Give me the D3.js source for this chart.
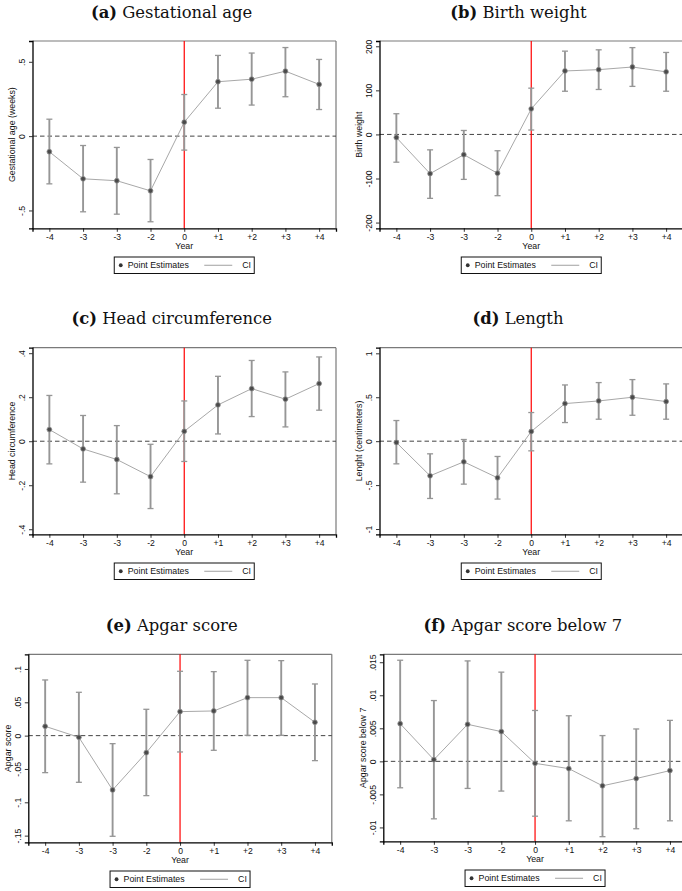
<!DOCTYPE html>
<html>
<head>
<meta charset="utf-8">
<script src="https://cdn.jsdelivr.net/npm/d3@7"></script>
<style>
  html, body { margin: 0; padding: 0; background: #fff; }
  svg { display: block; }
</style>
</head>
<body>
<div id="chart"></div>
<script>
// ---------- DATA ----------
const categories = ["-4", "-3", "-3", "-2", "0", "+1", "+2", "+3", "+4"];

const titlesBold = ["(a)", "(b)", "(c)", "(d)", "(e)", "(f)"];
const titlesText = ["Gestational age", "Birth weight", "Head circumference", "Length", "Apgar score", "Apgar score below 7"];
const yTitles = ["Gestational age (weeks)", "Birth weight", "Head circumference", "Lenght (centimeters)", "Apgar score", "Apgar score below 7"];

// (a) Gestational age
const gaEst = [-0.105, -0.287, -0.300, -0.368, 0.094, 0.366, 0.383, 0.437, 0.348];
const gaLo  = [-0.321, -0.509, -0.525, -0.576, -0.094, 0.188, 0.209, 0.265, 0.179];
const gaHi  = [0.114, -0.063, -0.076, -0.157, 0.280, 0.543, 0.559, 0.596, 0.516];
const gaTicks = [-0.5, 0, 0.5];
const gaTickLabels = ["-.5", "0", ".5"];
const gaDomain = [-0.62, 0.64];

// (b) Birth weight
const bwEst = [-7, -89, -46, -88, 58, 144, 147, 153, 142];
const bwLo  = [-63, -145, -102, -139, 10, 98, 102, 109, 98];
const bwHi  = [47, -35, 9, -37, 105, 189, 192, 197, 186];
const bwTicks = [-200, -100, 0, 100, 200];
const bwTickLabels = ["-200", "-100", "0", "100", "200"];
const bwDomain = [-213, 212];

// (c) Head circumference
const hcEst = [0.053, -0.035, -0.083, -0.161, 0.045, 0.165, 0.239, 0.191, 0.262];
const hcLo  = [-0.103, -0.186, -0.239, -0.306, -0.092, 0.033, 0.112, 0.065, 0.141];
const hcHi  = [0.208, 0.117, 0.071, -0.014, 0.183, 0.295, 0.367, 0.315, 0.383];
const hcTicks = [-0.4, -0.2, 0, 0.2, 0.4];
const hcTickLabels = ["-.4", "-.2", "0", ".2", ".4"];
const hcDomain = [-0.423, 0.425];

// (d) Length
const lnEst = [-0.015, -0.394, -0.235, -0.417, 0.110, 0.428, 0.458, 0.500, 0.451];
const lnLo  = [-0.258, -0.652, -0.489, -0.659, -0.110, 0.212, 0.250, 0.295, 0.250];
const lnHi  = [0.235, -0.144, 0.019, -0.174, 0.326, 0.640, 0.667, 0.701, 0.652];
const lnTicks = [-1, -0.5, 0, 0.5, 1];
const lnTickLabels = ["-1", "-.5", "0", ".5", "1"];
const lnDomain = [-1.06, 1.064];

// (e) Apgar score
const apEst = [0.014, -0.0025, -0.0815, -0.0255, 0.036, 0.037, 0.057, 0.057, 0.020];
const apLo  = [-0.0555, -0.070, -0.151, -0.090, -0.0245, -0.022, 0.0005, 0.0005, -0.0375];
const apHi  = [0.0835, 0.065, -0.012, 0.0395, 0.0965, 0.096, 0.113, 0.1125, 0.0775];
const apTicks = [-0.15, -0.1, -0.05, 0, 0.05, 0.1];
const apTickLabels = ["-.15", "-.1", "-.05", "0", ".05", ".1"];
const apDomain = [-0.160, 0.122];

// (f) Apgar score below 7
const a7Est = [0.0057, 0.00025, 0.0056, 0.0045, -0.0003, -0.0011, -0.0037, -0.0026, -0.0014];
const a7Lo  = [-0.0040, -0.0087, -0.0041, -0.0045, -0.0083, -0.0090, -0.0114, -0.0102, -0.0090];
const a7Hi  = [0.0153, 0.0092, 0.0152, 0.0135, 0.0077, 0.0069, 0.0039, 0.0049, 0.0062];
const a7Ticks = [-0.01, -0.005, 0, 0.005, 0.01, 0.015];
const a7TickLabels = ["-.01", "-.005", "0", ".005", ".01", ".015"];
const a7Domain = [-0.0121, 0.0162];

const legendLabels = ["Point Estimates", "CI"];
const xTitle = "Year";

// ---------- LAYOUT (positions only) ----------
const layout = [
  { left: 32.5,  top: 41,    bottom: 228.3, titleX: 171.6, titleY: 17.5,  yTitleX: 11.7 },
  { left: 379.5, top: 41,    bottom: 228.3, titleX: 518.5, titleY: 17.5,  yTitleX: 359.3 },
  { left: 32.5,  top: 347.7, bottom: 534.3, titleX: 171.7, titleY: 324.2, yTitleX: 11.7 },
  { left: 379.5, top: 347.7, bottom: 534.3, titleX: 518,   titleY: 324.2, yTitleX: 359.3 },
  { left: 28.3,  top: 654.3, bottom: 842.3, titleX: 171.7, titleY: 630.8, yTitleX: 8.3 },
  { left: 383.3, top: 654.3, bottom: 841.3, titleX: 522.8, titleY: 630.8, yTitleX: 362.7 }
];
const frameW = 303.5;

const panels = [
  { est: gaEst, lo: gaLo, hi: gaHi, ticks: gaTicks, tickLabels: gaTickLabels, domain: gaDomain },
  { est: bwEst, lo: bwLo, hi: bwHi, ticks: bwTicks, tickLabels: bwTickLabels, domain: bwDomain },
  { est: hcEst, lo: hcLo, hi: hcHi, ticks: hcTicks, tickLabels: hcTickLabels, domain: hcDomain },
  { est: lnEst, lo: lnLo, hi: lnHi, ticks: lnTicks, tickLabels: lnTickLabels, domain: lnDomain },
  { est: apEst, lo: apLo, hi: apHi, ticks: apTicks, tickLabels: apTickLabels, domain: apDomain },
  { est: a7Est, lo: a7Lo, hi: a7Hi, ticks: a7Ticks, tickLabels: a7TickLabels, domain: a7Domain }
];

const W = 682, H = 891;
const sans = "'Liberation Sans', Arial, Helvetica, sans-serif";
const serif = "'DejaVu Serif', 'Liberation Serif', serif";

const svg = d3.select("#chart").append("svg")
  .attr("width", W).attr("height", H)
  .attr("viewBox", `0 0 ${W} ${H}`);
svg.append("rect").attr("width", W).attr("height", H).attr("fill", "#fff");

panels.forEach((p, k) => {
  const L = layout[k];
  const right = L.left + frameW;
  const g = svg.append("g");

  const x = d3.scaleLinear().domain([-0.5, categories.length - 0.5]).range([L.left, right]);
  const y = d3.scaleLinear().domain(p.domain).range([L.bottom, L.top]);

  // Title
  const t = g.append("text")
    .attr("x", L.titleX).attr("y", L.titleY)
    .attr("text-anchor", "middle")
    .attr("font-family", serif).attr("font-size", 16.4).attr("fill", "#111");
  t.append("tspan").attr("font-weight", "bold").text(titlesBold[k]);
  t.append("tspan").text(" " + titlesText[k]);

  // Frame (top & right grey)
  g.append("line").attr("x1", L.left).attr("x2", right).attr("y1", L.top).attr("y2", L.top)
    .attr("stroke", "#7a7a7a").attr("stroke-width", 1.2);
  g.append("line").attr("x1", right).attr("x2", right).attr("y1", L.top).attr("y2", L.bottom)
    .attr("stroke", "#7a7a7a").attr("stroke-width", 1.2);

  // Zero dashed line
  g.append("line")
    .attr("x1", L.left).attr("x2", right)
    .attr("y1", y(0)).attr("y2", y(0))
    .attr("stroke", "#444").attr("stroke-width", 1).attr("stroke-dasharray", "4.5,3");

  // Red vertical line at event year (index 4)
  g.append("line")
    .attr("x1", x(4)).attr("x2", x(4))
    .attr("y1", L.top).attr("y2", L.bottom)
    .attr("stroke", "#ff0000").attr("stroke-width", 1.2);

  // Y axis
  const yAxis = d3.axisLeft(y).tickValues(p.ticks).tickSize(3.5).tickFormat("");
  const ya = g.append("g").attr("transform", `translate(${L.left},0)`).call(yAxis);
  ya.select(".domain").attr("stroke", "#000").attr("stroke-width", 1.3);
  ya.selectAll(".tick line").attr("stroke", "#000").attr("stroke-width", 0.8);
  ya.selectAll(".tick").append("text")
    .attr("transform", "rotate(-90)")
    .attr("x", 0).attr("y", -7.6)
    .attr("text-anchor", "middle")
    .attr("font-family", sans).attr("font-size", 8.6).attr("fill", "#111")
    .text((d, i) => p.tickLabels[i]);

  // X axis
  const xAxis = d3.axisBottom(x).tickValues(d3.range(categories.length)).tickSize(3.5)
    .tickFormat(i => categories[i]);
  const xa = g.append("g").attr("transform", `translate(0,${L.bottom})`).call(xAxis);
  xa.select(".domain").attr("stroke", "#000").attr("stroke-width", 1.3);
  xa.selectAll(".tick line").attr("stroke", "#000").attr("stroke-width", 0.8);
  xa.selectAll(".tick text")
    .attr("y", 6).attr("dy", "0.71em")
    .attr("font-family", sans).attr("font-size", 8.6).attr("fill", "#111");

  // Axis titles
  g.append("text")
    .attr("x", (L.left + right) / 2).attr("y", L.bottom + 21)
    .attr("text-anchor", "middle")
    .attr("font-family", sans).attr("font-size", 8.8).attr("fill", "#111")
    .text(xTitle);
  g.append("text")
    .attr("transform", `translate(${L.yTitleX + 3},${(L.top + L.bottom) / 2}) rotate(-90)`)
    .attr("text-anchor", "middle")
    .attr("font-family", sans).attr("font-size", 8.8).attr("fill", "#111")
    .text(yTitles[k]);

  // Connecting line
  const line = d3.line().x((d, i) => x(i)).y(d => y(d));
  g.append("path").datum(p.est).attr("d", line)
    .attr("fill", "none").attr("stroke", "#a8a8a8").attr("stroke-width", 1);

  // Error bars
  const idx = d3.range(categories.length);
  const eb = g.append("g").selectAll("g").data(idx).join("g");
  eb.append("line")
    .attr("x1", i => x(i)).attr("x2", i => x(i))
    .attr("y1", i => y(p.lo[i])).attr("y2", i => y(p.hi[i]))
    .attr("stroke", "#969696").attr("stroke-width", 1.9);
  eb.append("line")
    .attr("x1", i => x(i) - 3).attr("x2", i => x(i) + 3)
    .attr("y1", i => y(p.lo[i])).attr("y2", i => y(p.lo[i]))
    .attr("stroke", "#969696").attr("stroke-width", 1.3);
  eb.append("line")
    .attr("x1", i => x(i) - 3).attr("x2", i => x(i) + 3)
    .attr("y1", i => y(p.hi[i])).attr("y2", i => y(p.hi[i]))
    .attr("stroke", "#969696").attr("stroke-width", 1.3);

  // Points
  g.append("g").selectAll("circle").data(idx).join("circle")
    .attr("cx", i => x(i)).attr("cy", i => y(p.est[i]))
    .attr("r", 2.4)
    .attr("fill", "#4a4a4a").attr("stroke", "#8a8a8a").attr("stroke-width", 0.8);

  // Legend
  const lw = 140, lh = 16.5;
  const lx = (L.left + right) / 2 - lw / 2;
  const ly = L.bottom + 28.7;
  const lg = g.append("g").attr("transform", `translate(${lx},${ly})`);
  lg.append("rect").attr("width", lw).attr("height", lh)
    .attr("fill", "#fff").attr("stroke", "#111").attr("stroke-width", 1);
  lg.append("circle").attr("cx", 6.5).attr("cy", lh / 2).attr("r", 1.9).attr("fill", "#333");
  lg.append("text").attr("x", 13.5).attr("y", lh / 2 + 3)
    .attr("font-family", sans).attr("font-size", 8.8).attr("fill", "#111")
    .text(legendLabels[0]);
  lg.append("line").attr("x1", 90).attr("x2", 118).attr("y1", lh / 2).attr("y2", lh / 2)
    .attr("stroke", "#a0a0a0").attr("stroke-width", 1);
  lg.append("text").attr("x", 128).attr("y", lh / 2 + 3)
    .attr("font-family", sans).attr("font-size", 8.8).attr("fill", "#111")
    .text(legendLabels[1]);
});
</script>
</body>
</html>
